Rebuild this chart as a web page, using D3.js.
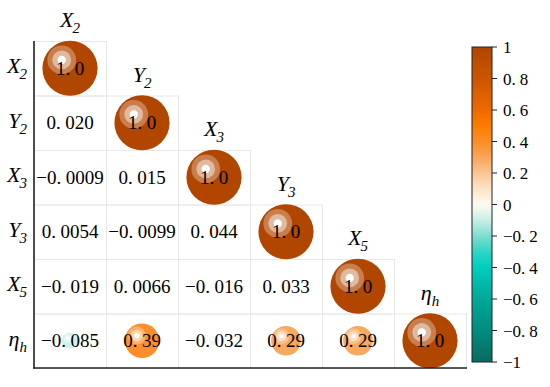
<!DOCTYPE html>
<html>
<head>
<meta charset="utf-8">
<script src="https://cdn.jsdelivr.net/npm/d3@7"></script>
<style>
  html, body { margin: 0; padding: 0; background: #fff; }
  svg { display: block; }
</style>
</head>
<body>
<svg id="chart" width="550" height="387"></svg>
<script>
// ---- data ----
const varBase = ["X", "Y", "X", "Y", "X", "\u03B7"];
const varSub  = ["2", "2", "3", "3", "5", "h"];
// lower-triangle correlation values (row i, columns 0..i)
const corrValues = [
  [1.0],
  [0.020, 1.0],
  [-0.0009, 0.015, 1.0],
  [0.0054, -0.0099, 0.044, 1.0],
  [-0.019, 0.0066, -0.016, 0.033, 1.0],
  [-0.085, 0.39, -0.032, 0.29, 0.29, 1.0]
];
const corrLabels = [
  ["1.0"],
  ["0.020", "1.0"],
  ["\u22120.0009", "0.015", "1.0"],
  ["0.0054", "\u22120.0099", "0.044", "1.0"],
  ["\u22120.019", "0.0066", "\u22120.016", "0.033", "1.0"],
  ["\u22120.085", "0.39", "\u22120.032", "0.29", "0.29", "1.0"]
];
const cbTicks = [1, 0.8, 0.6, 0.4, 0.2, 0, -0.2, -0.4, -0.6, -0.8, -1];
const cbTickLabels = ["1", "0.8", "0.6", "0.4", "0.2", "0", "\u22120.2", "\u22120.4", "\u22120.6", "\u22120.8", "\u22121"];
const cmapStops  = [-1, -0.8, -0.6, -0.4, -0.3, -0.2, -0.1, 0, 0.1, 0.2, 0.3, 0.4, 0.5, 0.6, 0.8, 1];
const cmapColors = ["#0a6a60", "#008c7f", "#00a898", "#00cdbd", "#2fd5c5", "#7fdccf", "#c8efe7", "#fdfaf2",
                    "#fde3c8", "#fbc592", "#f9a55a", "#fb8d25", "#fd7b00", "#ee6a00", "#cc5500", "#b04600"];

// ---- layout ----
(function () {
const FONT = "'Times New Roman', 'Liberation Serif', Tinos, 'DejaVu Serif', serif";
const svg = d3.select("#chart");
const n = varBase.length;
const pLeft = 34, pTop = 41, pRight = 466, pBottom = 368;
const x = d3.scaleBand().domain(d3.range(n)).range([pLeft, pRight]);
const y = d3.scaleBand().domain(d3.range(n)).range([pTop, pBottom]);
const color = d3.scaleLinear().domain(cmapStops).range(cmapColors).interpolate(d3.interpolateRgb).clamp(true);
const rScale = d3.scaleSqrt().domain([0, 1]).range([0, 27.6]);

const cells = [];
corrValues.forEach((row, i) => row.forEach((v, j) => cells.push({i, j, v, label: corrLabels[i][j]})));

// grid cells
svg.append("g").selectAll("rect").data(cells).join("rect")
  .attr("x", d => x(d.j) + 0.5).attr("y", d => y(d.i) + 0.5)
  .attr("width", x.bandwidth()).attr("height", y.bandwidth())
  .attr("fill", "none").attr("stroke", "#e8e8e8").attr("stroke-width", 1);

// circles with glossy highlight
const cg = svg.append("g");
cells.forEach(d => {
  const cx = x(d.j) + x.bandwidth() / 2, cy = y(d.i) + y.bandwidth() / 2;
  const R = rScale(Math.abs(d.v));
  const base = color(d.v);
  const g = cg.append("g");
  g.append("circle").attr("cx", cx).attr("cy", cy).attr("r", R).attr("fill", base);
  const hx = cx - 0.3 * R, hy = cy - 0.3 * R;
  const mix = d3.interpolateRgb(base, "#ffffff");
  [[0.52, 0.3], [0.34, 0.62], [0.15, 1.0]].forEach(([f, t]) => {
    g.append("circle").attr("cx", hx).attr("cy", hy).attr("r", f * R).attr("fill", mix(t));
  });
});

// value labels
const tg = svg.append("g");
cells.forEach(d => {
  const cx = x(d.j) + x.bandwidth() / 2, cy = y(d.i) + y.bandwidth() / 2;
  const parts = d.label.split(".");
  const t = tg.append("text").attr("x", cx).attr("y", cy + 6.5).style("font-family", FONT)
    .attr("text-anchor", "middle").attr("font-size", 19).attr("fill", "#000");
  t.append("tspan").text(parts[0] + ".");
  t.append("tspan").attr("dx", 4.5).text(parts[1]);
});

// axis labels (rows and diagonal column headers)
function addLabel(xp, yp, i, anchor) {
  const t = svg.append("text").attr("x", xp).attr("y", yp).style("font-family", FONT)
    .attr("text-anchor", anchor).attr("font-size", 22).attr("font-style", "italic").attr("fill", "#000");
  t.append("tspan").text(varBase[i]);
  t.append("tspan").attr("font-size", 15).attr("dy", 6).attr("dx", i === 5 ? 0 : -1).text(varSub[i]);
}
d3.range(n).forEach(i => {
  addLabel(27, y(i) + y.bandwidth() / 2 + 5, i, "end");
  addLabel(x(i) + x.bandwidth() / 2, y(i) - 14, i, "middle");
});

// axes lines
svg.append("line").attr("x1", pLeft).attr("x2", pLeft).attr("y1", pTop).attr("y2", pBottom + 0.8)
  .attr("stroke", "#222").attr("stroke-width", 1.6);
svg.append("line").attr("x1", pLeft - 0.8).attr("x2", pRight + 1).attr("y1", pBottom).attr("y2", pBottom)
  .attr("stroke", "#222").attr("stroke-width", 1.6);

// colorbar
const cbX = 472, cbW = 20, cbTop = 47, cbBottom = 362;
const cbScale = d3.scaleLinear().domain([-1, 1]).range([cbBottom, cbTop]);
const defs = svg.append("defs");
const grad = defs.append("linearGradient").attr("id", "cbgrad")
  .attr("x1", 0).attr("y1", 1).attr("x2", 0).attr("y2", 0);
d3.range(0, 1.0001, 0.02).forEach(f => {
  grad.append("stop").attr("offset", f).attr("stop-color", color(-1 + 2 * f));
});
svg.append("rect").attr("x", cbX).attr("y", cbTop).attr("width", cbW).attr("height", cbBottom - cbTop)
  .attr("fill", "url(#cbgrad)").attr("stroke", "#222").attr("stroke-width", 1);
const cbg = svg.append("g");
cbTicks.forEach((v, k) => {
  const yy = cbScale(v);
  cbg.append("line").attr("x1", cbX + cbW).attr("x2", cbX + cbW + 5).attr("y1", yy).attr("y2", yy)
    .attr("stroke", "#222").attr("stroke-width", 1);
  const lab = cbTickLabels[k];
  const t = cbg.append("text").attr("x", 503).attr("y", yy + 6).style("font-family", FONT)
    .attr("font-size", 17).attr("fill", "#000");
  if (lab.includes(".")) {
    const p = lab.split(".");
    t.append("tspan").text(p[0] + ".");
    t.append("tspan").attr("dx", 4).text(p[1]);
  } else {
    t.text(lab);
  }
});
})();
</script>
</body>
</html>
